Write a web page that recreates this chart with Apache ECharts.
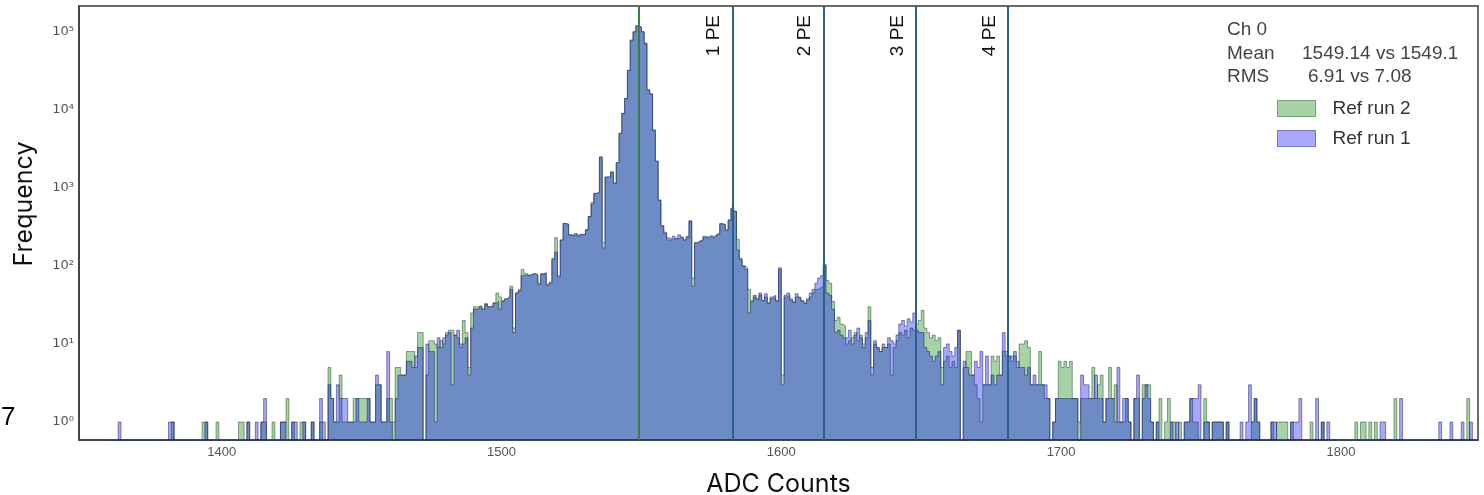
<!DOCTYPE html>
<html>
<head>
<meta charset="utf-8">
<title>ADC Counts — Ch 0</title>
<script src="https://cdn.jsdelivr.net/npm/echarts@6/dist/echarts.min.js"></script>
<style>
  html, body { margin: 0; padding: 0; background: #ffffff; }
  #chart { width: 1484px; height: 495px; }
</style>
</head>
<body>
<div id="chart"></div>
<script>
// ---- histogram data: one bin per ADC code, first bin at ADC_START ----
const ADC_START = 1360;

// Ref run 1 (blue)
const run1Counts = [
  // 1360
  0, 0, 0, 1, 0, 0, 0, 0, 0, 0,
  // 1370
  0, 0, 0, 0, 0, 0, 0, 0, 0, 0,
  // 1380
  0, 1, 1, 0, 0, 0, 0, 0, 0, 0,
  // 1390
  0, 0, 0, 0, 1, 0, 0, 0, 0, 0,
  // 1400
  0, 0, 0, 0, 0, 0, 0, 0, 0, 1,
  // 1410
  0, 0, 1, 0, 1, 2, 0, 0, 0, 0,
  // 1420
  0, 1, 1, 0, 0, 1, 1, 0, 0, 1,
  // 1430
  0, 0, 1, 0, 0, 2, 1, 0, 3, 2,
  // 1440
  1, 3, 2, 2, 2, 1, 1, 1, 2, 1,
  // 1450
  1, 1, 2, 1, 1, 4, 3, 1, 1, 8,
  // 1460
  1, 0, 2, 4, 4, 4, 6, 6, 5, 7,
  // 1470
  9, 9, 0, 10, 8, 8, 1, 12, 9, 12,
  // 1480
  13, 14, 3, 13, 15, 10, 10, 12, 4, 16,
  // 1490
  28, 28, 30, 28, 32, 30, 30, 33, 35, 28,
  // 1500
  35, 38, 40, 50, 14, 45, 48, 75, 78, 75,
  // 1510
  78, 80, 76, 58, 78, 80, 56, 60, 120, 150,
  // 1520
  72, 215, 350, 340, 250, 245, 260, 240, 255, 250,
  // 1530
  290, 430, 620, 850, 870, 2500, 170, 1380, 1380, 1600,
  // 1540
  1150, 2100, 5000, 9000, 14000, 32000, 78000, 100000, 118000, 115000,
  // 1550
  100000, 70000, 18000, 16000, 5500, 2200, 700, 330, 270, 230,
  // 1560
  220, 240, 225, 250, 235, 215, 240, 380, 55, 200,
  // 1570
  210, 215, 240, 235, 245, 240, 250, 260, 350, 340,
  // 1580
  290, 390, 550, 500, 160, 120, 100, 90, 25, 35,
  // 1590
  42, 38, 45, 36, 44, 33, 40, 42, 36, 95,
  // 1600
  3, 42, 45, 38, 34, 44, 40, 36, 33, 38,
  // 1610
  45, 50, 60, 70, 75, 105, 45, 42, 28, 14,
  // 1620
  15, 13, 12, 12, 15, 10, 13, 16, 12, 9,
  // 1630
  14, 20, 5, 11, 9, 8, 10, 9, 12, 11,
  // 1640
  10, 13, 18, 20, 17, 21, 19, 25, 15, 14,
  // 1650
  14, 9, 8, 7, 6, 7, 8, 3, 9, 10,
  // 1660
  8, 7, 9, 15, 0, 6, 5, 4, 4, 6,
  // 1670
  5, 8, 3, 7, 3, 4, 3, 4, 4, 14,
  // 1680
  8, 7, 7, 8, 6, 5, 5, 4, 5, 3,
  // 1690
  4, 3, 3, 3, 3, 2, 0, 1, 2, 2,
  // 1700
  2, 2, 2, 2, 2, 2, 0, 4, 3, 3,
  // 1710
  2, 2, 4, 2, 2, 1, 2, 2, 2, 1,
  // 1720
  5, 1, 2, 2, 1, 0, 2, 4, 0, 2,
  // 1730
  3, 2, 1, 0, 1, 0, 0, 0, 0, 1,
  // 1740
  0, 1, 0, 0, 1, 1, 2, 2, 2, 3,
  // 1750
  0, 1, 1, 0, 1, 1, 1, 1, 0, 1,
  // 1760
  0, 0, 0, 0, 1, 0, 1, 3, 1, 2,
  // 1770
  1, 0, 0, 0, 0, 1, 1, 0, 0, 0,
  // 1780
  0, 0, 1, 1, 1, 2, 0, 0, 0, 0,
  // 1790
  0, 2, 0, 1, 0, 1, 0, 0, 0, 0,
  // 1800
  0, 0, 0, 0, 0, 0, 0, 0, 0, 0,
  // 1810
  0, 0, 0, 0, 1, 1, 0, 0, 0, 0,
  // 1820
  0, 2, 0, 0, 0, 0, 0, 0, 0, 0,
  // 1830
  0, 0, 0, 0, 0, 1, 0, 0, 0, 1,
  // 1840
  0, 0, 0, 1, 0, 0, 1, 0, 0
];

// Ref run 2 (green)
const run2Counts = [
  // 1360
  0, 0, 0, 0, 0, 0, 0, 0, 0, 0,
  // 1370
  0, 0, 0, 0, 0, 0, 0, 0, 0, 0,
  // 1380
  0, 0, 1, 0, 0, 0, 0, 0, 0, 0,
  // 1390
  0, 0, 0, 1, 1, 0, 0, 0, 1, 0,
  // 1400
  0, 0, 0, 0, 0, 0, 1, 1, 0, 1,
  // 1410
  0, 0, 0, 0, 1, 1, 0, 0, 1, 0,
  // 1420
  0, 1, 1, 2, 0, 1, 0, 0, 1, 1,
  // 1430
  0, 0, 1, 0, 0, 1, 0, 0, 5, 2,
  // 1440
  1, 1, 4, 1, 1, 1, 1, 2, 2, 2,
  // 1450
  2, 2, 2, 1, 1, 3, 3, 1, 1, 2,
  // 1460
  2, 1, 5, 5, 4, 4, 8, 8, 8, 5,
  // 1470
  14, 14, 0, 4, 11, 11, 10, 9, 11, 10,
  // 1480
  14, 15, 15, 13, 12, 9, 20, 14, 5, 25,
  // 1490
  30, 30, 31, 28, 33, 30, 31, 34, 45, 40,
  // 1500
  36, 38, 40, 55, 16, 45, 50, 90, 80, 76,
  // 1510
  78, 80, 78, 60, 80, 82, 58, 62, 125, 230,
  // 1520
  75, 215, 350, 345, 250, 245, 255, 245, 250, 255,
  // 1530
  290, 430, 650, 850, 900, 2450, 200, 1370, 1390, 1600,
  // 1540
  1150, 2100, 5000, 9000, 14000, 32000, 78000, 100000, 120000, 115000,
  // 1550
  100000, 72000, 18000, 16000, 5500, 2200, 690, 320, 260, 215,
  // 1560
  215, 225, 220, 230, 230, 215, 230, 370, 70, 195,
  // 1570
  205, 210, 230, 230, 235, 230, 240, 255, 345, 335,
  // 1580
  285, 380, 540, 500, 220, 125, 100, 95, 50, 36,
  // 1590
  40, 37, 42, 36, 40, 34, 38, 40, 35, 90,
  // 1600
  4, 40, 42, 36, 34, 40, 38, 35, 33, 36,
  // 1610
  40, 45, 50, 52, 55, 100, 65, 60, 35, 20,
  // 1620
  22, 18, 17, 10, 11, 12, 14, 11, 13, 10,
  // 1630
  12, 30, 4, 10, 9, 8, 9, 9, 10, 4,
  // 1640
  9, 11, 14, 13, 15, 12, 16, 15, 18, 20,
  // 1650
  27, 16, 14, 12, 13, 11, 12, 5, 6, 7,
  // 1660
  5, 6, 5, 15, 0, 5, 8, 8, 4, 3,
  // 1670
  2, 1, 3, 3, 3, 7, 6, 7, 4, 8,
  // 1680
  7, 7, 6, 7, 5, 10, 10, 11, 9, 3,
  // 1690
  3, 3, 8, 3, 2, 2, 0, 1, 2, 6,
  // 1700
  5, 6, 5, 6, 2, 2, 1, 2, 2, 2,
  // 1710
  2, 5, 2, 3, 4, 1, 2, 5, 2, 3,
  // 1720
  1, 1, 1, 2, 1, 0, 2, 2, 0, 3,
  // 1730
  3, 3, 1, 0, 1, 2, 0, 1, 2, 1,
  // 1740
  1, 0, 1, 0, 1, 1, 2, 1, 1, 0,
  // 1750
  0, 2, 1, 0, 1, 1, 1, 1, 0, 1,
  // 1760
  0, 0, 0, 0, 0, 0, 0, 0, 1, 2,
  // 1770
  1, 0, 0, 0, 0, 1, 0, 1, 1, 1,
  // 1780
  1, 0, 1, 0, 0, 0, 0, 0, 0, 1,
  // 1790
  0, 0, 0, 1, 0, 0, 0, 0, 0, 0,
  // 1800
  0, 0, 0, 0, 0, 1, 0, 1, 1, 0,
  // 1810
  1, 0, 1, 0, 0, 0, 0, 0, 0, 2,
  // 1820
  0, 0, 0, 0, 0, 0, 0, 0, 0, 0,
  // 1830
  0, 0, 0, 0, 0, 0, 0, 0, 0, 0,
  // 1840
  0, 0, 0, 0, 0, 2, 0, 0, 0
];

// axis ticks and reference lines
const X_TICKS = [1400, 1500, 1600, 1700, 1800];
const Y_DECADES = [0, 1, 2, 3, 4, 5];
const MEAN_ADC = 1549.1;
const PE_ADC = [1582.5, 1615.0, 1648.2, 1681.1];
const PE_LABELS = ['1 PE', '2 PE', '3 PE', '4 PE'];

// ---- layout / scale constants ----
const X_MIN = 1349, X_MAX = 1849;
const LOG_MIN = -0.23, LOG_MAX = 5.33;   // log10 of the frequency range shown
const EMPTY_LOG = -1;                    // empty bins sit below the visible range

const SUPERSCRIPT = ['\u2070', '\u00B9', '\u00B2', '\u00B3', '\u2074', '\u2075'];

// step points: each bin's left edge carries the bin height, closed by one empty edge
function toSteps(counts) {
  const pts = counts.map((c, i) => [ADC_START + i, c > 0 ? Math.log10(c) : EMPTY_LOG]);
  pts.push([ADC_START + counts.length, EMPTY_LOG]);
  return pts;
}

const GREEN_FILL = 'rgba(0,128,0,0.35)';
const GREEN_EDGE = 'rgba(30,80,30,0.5)';
const BLUE_FILL = 'rgba(0,0,255,0.34)';
const BLUE_EDGE = 'rgba(25,25,100,0.5)';

const chart = echarts.init(document.getElementById('chart'), null, { renderer: 'canvas' });

const peMarks = PE_ADC.map((x, i) => ({
  xAxis: x,
  lineStyle: { color: '#2a6189', width: 2, type: 'solid' },
  label: {
    show: true,
    formatter: PE_LABELS[i],
    position: 'insideEndTop',
    distance: 9,
    fontSize: 19,
    fontFamily: 'Liberation Sans',
    color: '#111'
  }
}));

chart.setOption({
  animation: false,
  backgroundColor: '#ffffff',
  grid: {
    left: 79, right: 6, top: 6, bottom: 55,
    outerBoundsMode: 'none',
    containLabel: false,
    show: true,
    borderColor: '#3a3a3a',
    borderWidth: 1.5,
    backgroundColor: 'transparent'
  },
  xAxis: {
    type: 'value',
    min: X_MIN,
    max: X_MAX,
    name: 'ADC Counts',
    nameLocation: 'middle',
    nameGap: 32,
    nameTextStyle: { fontSize: 25, fontFamily: 'Inter', color: '#111' },
    axisLine: { show: true, onZero: false, lineStyle: { color: '#3a3a3a', width: 1.5 } },
    axisTick: { show: false },
    splitLine: { show: false },
    axisLabel: {
      customValues: X_TICKS,
      margin: 6,
      fontSize: 13,
      fontFamily: 'Liberation Sans',
      color: '#555',
      formatter: v => String(v)
    }
  },
  yAxis: {
    type: 'value',
    min: LOG_MIN,
    max: LOG_MAX,
    axisLine: { show: true, onZero: false, lineStyle: { color: '#3a3a3a', width: 1.5 } },
    axisTick: { show: false },
    splitLine: { show: false },
    axisLabel: {
      customValues: Y_DECADES,
      margin: 5,
      fontSize: 13,
      fontFamily: 'DejaVu Sans',
      color: '#555',
      formatter: v => '10' + SUPERSCRIPT[Math.round(v)]
    }
  },
  legend: {
    orient: 'vertical',
    left: 1277,
    top: 99,
    padding: 0,
    itemWidth: 38,
    itemHeight: 16,
    itemGap: 11,
    icon: 'rect',
    textStyle: { fontSize: 19, fontFamily: 'Liberation Sans', color: '#333', padding: [0, 0, 0, 12] },
    data: [
      { name: 'Ref run 2', itemStyle: { color: GREEN_FILL, borderColor: GREEN_EDGE, borderWidth: 1 } },
      { name: 'Ref run 1', itemStyle: { color: BLUE_FILL, borderColor: BLUE_EDGE, borderWidth: 1 } }
    ]
  },
  series: [
    {
      name: 'Ref run 2',
      type: 'line',
      step: 'end',
      data: toSteps(run2Counts),
      showSymbol: false,
      symbol: 'none',
      clip: true,
      itemStyle: { color: GREEN_FILL },
      lineStyle: { color: GREEN_EDGE, width: 1 },
      areaStyle: { color: GREEN_FILL, origin: 'start', opacity: 1 },
      z: 2
    },
    {
      name: 'Ref run 1',
      type: 'line',
      step: 'end',
      data: toSteps(run1Counts),
      showSymbol: false,
      symbol: 'none',
      clip: true,
      itemStyle: { color: BLUE_FILL },
      lineStyle: { color: BLUE_EDGE, width: 1 },
      areaStyle: { color: BLUE_FILL, origin: 'start', opacity: 1 },
      z: 3,
      markLine: {
        silent: true,
        symbol: ['none', 'none'],
        animation: false,
        data: [
          { xAxis: MEAN_ADC, lineStyle: { color: '#3b7d46', width: 2, type: 'solid' }, label: { show: false } }
        ].concat(peMarks)
      }
    }
  ],
  graphic: [
    {
      type: 'text', x: 24, y: 204, rotation: Math.PI / 2,
      style: { text: 'Frequency', fontSize: 25, fontFamily: 'Inter', fill: '#111', align: 'center', verticalAlign: 'middle' }
    },
    {
      type: 'text', x: 1, y: 418,
      style: { text: '7', fontSize: 26, fontFamily: 'Liberation Sans', fill: '#000', align: 'left', verticalAlign: 'middle' }
    },
    {
      type: 'text', x: 1227, y: 30,
      style: { text: 'Ch 0', fontSize: 19, fontFamily: 'Liberation Sans', fill: '#444', verticalAlign: 'middle' }
    },
    {
      type: 'text', x: 1227, y: 54,
      style: { text: 'Mean', fontSize: 19, fontFamily: 'Liberation Sans', fill: '#444', verticalAlign: 'middle' }
    },
    {
      type: 'text', x: 1302, y: 54,
      style: { text: '1549.14 vs 1549.1', fontSize: 19, fontFamily: 'Liberation Sans', fill: '#444', verticalAlign: 'middle' }
    },
    {
      type: 'text', x: 1227, y: 77,
      style: { text: 'RMS', fontSize: 19, fontFamily: 'Liberation Sans', fill: '#444', verticalAlign: 'middle' }
    },
    {
      type: 'text', x: 1308, y: 77,
      style: { text: '6.91 vs 7.08', fontSize: 19, fontFamily: 'Liberation Sans', fill: '#444', verticalAlign: 'middle' }
    }
  ]
});
</script>
</body>
</html>
